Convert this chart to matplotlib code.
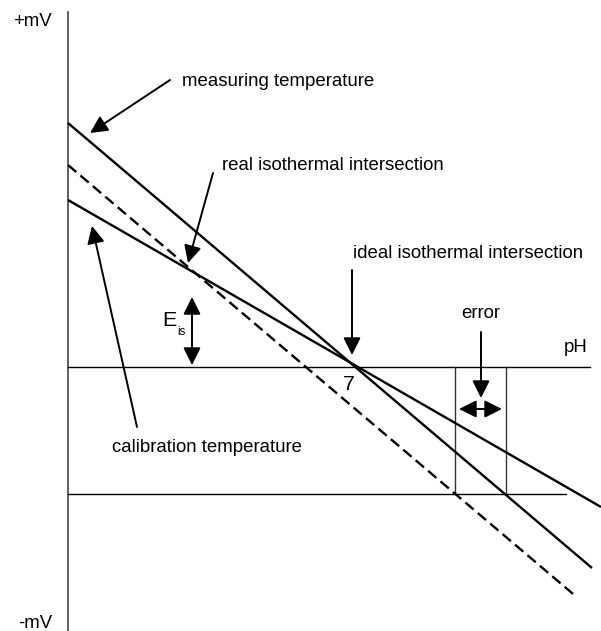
import matplotlib
matplotlib.use("Agg")
import matplotlib.pyplot as plt
from matplotlib import font_manager

# ---- data (pH units on x, mV-like units on y; pH line at 0) ----
measuring_ph = [0.0, 12.78]
measuring_mv = [244, -201]
calibration_ph = [0.0, 13.0]
calibration_mv = [167, -140]
dashed_ph = [0.0, 12.32]
dashed_mv = [202, -227]
ph_axis_ph = [0.0, 12.73]
ph_axis_mv = [0, 0]
lower_ph = [0.0, 12.15]
lower_mv = [-127, -127]
err_left_ph = 9.44
err_right_ph = 10.68
mv_axis_top = 355
mv_axis_bottom = -264
isothermal_ph = 7

names = {f.name for f in font_manager.fontManager.ttflist}
if "Liberation Sans Narrow" in names:
    FAM = ["Liberation Sans Narrow", "DejaVu Sans"]
    FS = 15.5
else:
    FAM = ["Liberation Sans", "DejaVu Sans"]
    FS = 13.4
plt.rcParams["font.family"] = FAM

# pixel helpers for placement of annotations (figure is 601x631 px)
def P(x, y):
    return ((x - 68) / 41.0, 367 - y)

fig = plt.figure(figsize=(6.01, 6.31), dpi=100)
ax = fig.add_axes([0, 0, 1, 1])
ax.set_xlim(P(0, 0)[0], P(601, 0)[0])
ax.set_ylim(P(0, 631)[1], P(0, 0)[1])
ax.axis("off")

K = "black"
# vertical mV axis
ax.plot([0, 0], [mv_axis_bottom, mv_axis_top], color="#333333", lw=1.1)
# pH line and lower line
ax.plot(ph_axis_ph, ph_axis_mv, color=K, lw=1.0)
ax.plot(lower_ph, lower_mv, color=K, lw=1.0)
# vertical error lines
ax.plot([err_left_ph, err_left_ph], [0, lower_mv[0]], color="#333333", lw=1.0)
ax.plot([err_right_ph, err_right_ph], [0, lower_mv[0]], color="#333333", lw=1.0)
# main lines
ax.plot(measuring_ph, measuring_mv, color=K, lw=1.7, solid_capstyle="butt")
ax.plot(calibration_ph, calibration_mv, color=K, lw=1.7, solid_capstyle="butt")
ax.plot(dashed_ph, dashed_mv, color=K, lw=1.7, linestyle=(0, (4.6, 2.3)))

ap = dict(arrowstyle="-|>,head_length=0.7,head_width=0.35", color=K, lw=1.4,
          shrinkA=0, shrinkB=0, mutation_scale=15)
dap = dict(arrowstyle="<|-|>,head_length=0.7,head_width=0.35", color=K, lw=1.4,
           shrinkA=0, shrinkB=0, mutation_scale=15)

def arrow(tail, tip, props=ap):
    ax.annotate("", xy=P(*tip), xytext=P(*tail), arrowprops=props)

arrow((170, 80), (90, 133))
arrow((213, 173), (188, 263))
arrow((352, 270), (352, 355))
arrow((137, 427), (92, 226))
arrow((481, 332), (481, 398))
arrow((192, 297), (192, 365), dap)
arrow((459, 409), (502, 409), dap)

def txt(x, y, s, ha="left", size=FS):
    ax.text(*P(x, y), s, ha=ha, va="center", fontsize=size, color=K)

txt(52, 22, "+mV", ha="right")
txt(52, 623, "-mV", ha="right")
txt(182, 82, "measuring temperature")
txt(222, 166, "real isothermal intersection")
txt(353, 253, "ideal isothermal intersection")
txt(112, 447, "calibration temperature")
txt(481, 314, "error", ha="center")
txt(588, 347, "pH", ha="right")
txt(349, 384, str(isothermal_ph), ha="center", size=FS * 1.15)
txt(162, 320, "E", size=FS * 1.15)
txt(177, 332, "is", size=FS * 0.62)

fig.savefig("out.png", dpi=100)
